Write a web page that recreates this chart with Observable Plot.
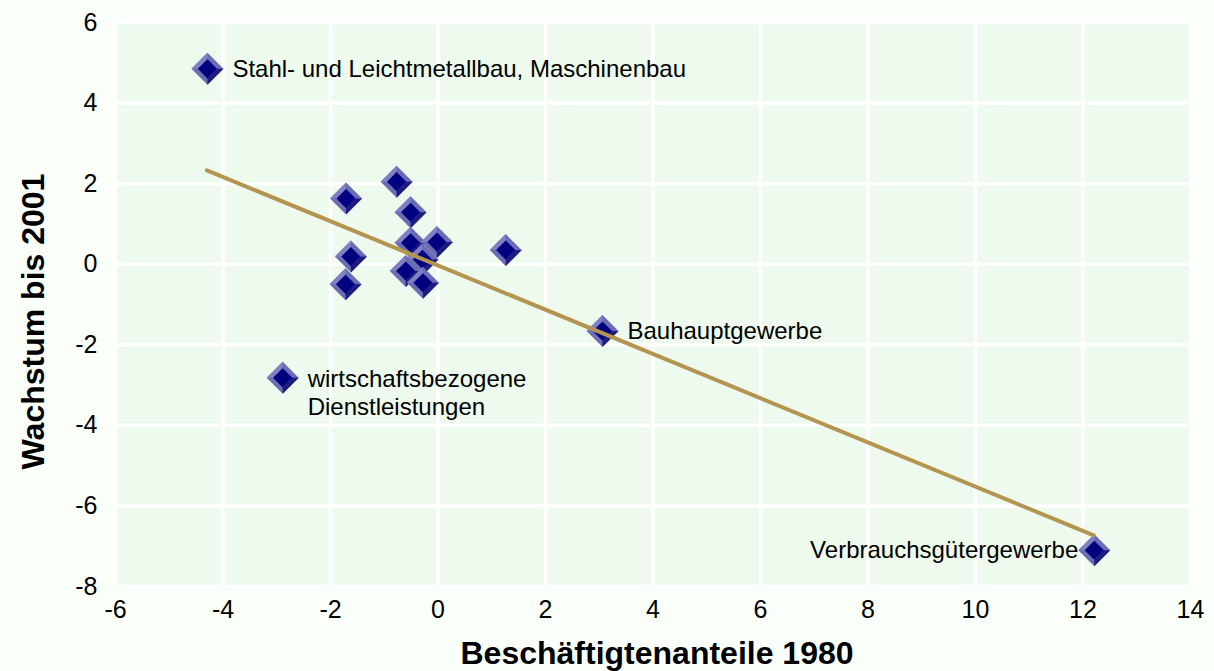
<!DOCTYPE html>
<html>
<head>
<meta charset="utf-8">
<script src="https://cdn.jsdelivr.net/npm/d3@7"></script>
<script src="https://cdn.jsdelivr.net/npm/@observablehq/plot@0.6"></script>
<style>
  html, body { margin: 0; padding: 0; background: #fafffa; }
  #chart { width: 1214px; height: 671px; }
</style>
</head>
<body>
<div id="chart"></div>
<script>
// Data
const sectorX = [-4.29, 3.06, 12.21, -2.89, -1.71, -0.77, -0.51, -1.62, -1.72, -0.51, -0.02, -0.29, -0.60, -0.28, 1.26];
const sectorY = [4.85, -1.66, -7.10, -2.82, 1.63, 2.05, 1.29, 0.19, -0.50, 0.53, 0.55, 0.12, -0.17, -0.46, 0.35];
const sectorLabel = [
  "Stahl- und Leichtmetallbau, Maschinenbau",
  "Bauhauptgewerbe",
  "Verbrauchsgütergewerbe",
  "wirtschaftsbezogene\nDienstleistungen",
  "", "", "", "", "", "", "", "", "", "", ""
];
const trendX = [-4.3, 12.2];
const trendY = [2.33, -6.73];
const xTicks = [-6, -4, -2, 0, 2, 4, 6, 8, 10, 12, 14];
const yTicks = [-8, -6, -4, -2, 0, 2, 4, 6];
const xTitle = "Beschäftigtenanteile 1980";
const yTitle = "Wachstum bis 2001";

const points = sectorX.map((x, i) => ({x, y: sectorY[i], label: sectorLabel[i], i}));
const trend = trendX.map((x, i) => ({x, y: trendY[i]}));

// bevelled diamond symbol pieces
const K = 0.6;
const rad = size => Math.sqrt(size / Math.PI);
const outerSym = {draw(c, s) {const r = rad(s); c.moveTo(0, -r); c.lineTo(r, 0); c.lineTo(0, r); c.lineTo(-r, 0); c.closePath();}};
const tlSym = {draw(c, s) {const r = rad(s); c.moveTo(-r, 0); c.lineTo(0, -r); c.lineTo(0, -K * r); c.lineTo(-K * r, 0); c.closePath();}};
const brSym = {draw(c, s) {const r = rad(s); c.moveTo(r, 0); c.lineTo(0, r); c.lineTo(0, K * r); c.lineTo(K * r, 0); c.closePath();}};
const innerSym = {draw(c, s) {const r = rad(s) * K; c.moveTo(0, -r); c.lineTo(r, 0); c.lineTo(0, r); c.lineTo(-r, 0); c.closePath();}};

const R = 16;
const markerMarks = points.flatMap(p => [
  Plot.dot([p], {x: "x", y: "y", r: R, symbol: outerSym, fill: "#6c6cb4", stroke: "none"}),
  Plot.dot([p], {x: "x", y: "y", r: R, symbol: tlSym, fill: "#8080c6", stroke: "none"}),
  Plot.dot([p], {x: "x", y: "y", r: R, symbol: brSym, fill: "#1c1c7e", stroke: "none"}),
  Plot.dot([p], {x: "x", y: "y", r: R, symbol: innerSym, fill: "#000080", stroke: "none"})
]);

const font = "'Liberation Sans', Arial, sans-serif";

const chart = Plot.plot({
  width: 1214,
  height: 671,
  marginLeft: 115,
  marginRight: 24,
  marginTop: 22,
  marginBottom: 85,
  style: {background: "#fafffa", fontFamily: font, color: "#000"},
  x: {domain: [-6, 14], ticks: xTicks},
  y: {domain: [-8, 6], ticks: yTicks},
  marks: [
    Plot.frame({fill: "#edfaed", stroke: "none"}),
    Plot.gridX(xTicks, {stroke: "#ffffff", strokeOpacity: 1, strokeWidth: 3.5}),
    Plot.gridY(yTicks, {stroke: "#ffffff", strokeOpacity: 1, strokeWidth: 3.5}),
    Plot.axisX(xTicks, {tickSize: 0, tickPadding: 14, fontSize: 25, tickFormat: d => String(d), label: null, fill: "#000"}),
    Plot.axisY(yTicks, {tickSize: 0, tickPadding: 18, fontSize: 25, tickFormat: d => String(d), label: null, fill: "#000"}),
    ...markerMarks,
    Plot.line(trend, {x: "x", y: "y", stroke: "#b39450", strokeWidth: 4}),
    Plot.text(points.filter(p => p.i === 0 || p.i === 1), {x: "x", y: "y", text: "label", textAnchor: "start", dx: 25, fontSize: 24, fill: "#000"}),
    Plot.text(points.filter(p => p.i === 2), {x: "x", y: "y", text: "label", textAnchor: "end", dx: -16, fontSize: 24, fill: "#000"}),
    Plot.text(points.filter(p => p.i === 3), {x: "x", y: "y", text: "label", textAnchor: "start", dx: 25, dy: 14, lineHeight: 1.2, fontSize: 24, fill: "#000"}),
    Plot.text([xTitle], {frameAnchor: "bottom", text: d => d, textAnchor: "middle", lineAnchor: "middle", dx: 4, dy: 67, fontSize: 32, fontWeight: "bold", fill: "#000"}),
    Plot.text([yTitle], {frameAnchor: "left", text: d => d, textAnchor: "middle", lineAnchor: "middle", rotate: -90, dx: -82, dy: 17, fontSize: 32, fontWeight: "bold", fill: "#000"})
  ]
});
document.getElementById("chart").appendChild(chart);
</script>
</body>
</html>
